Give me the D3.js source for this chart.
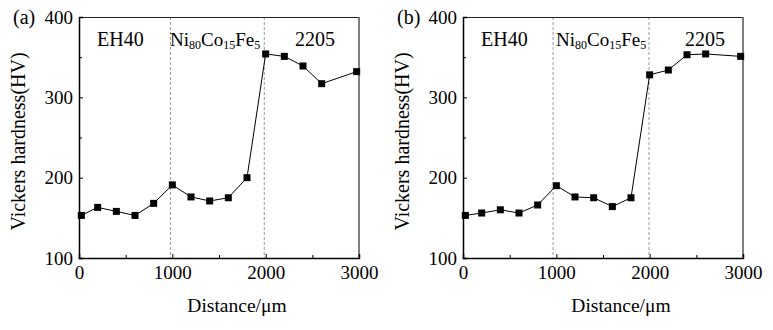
<!DOCTYPE html>
<html><head><meta charset="utf-8">
<script src="https://cdn.jsdelivr.net/npm/d3@7"></script>
<style>body{margin:0;background:#fff}svg{display:block}</style>
</head><body><svg id="c" width="773" height="330"></svg>
<script>
const distanceA = [25, 200, 400, 600, 800, 1000, 1200, 1400, 1600, 1800, 2000, 2200, 2400, 2600, 2975];
const hardnessA = [153, 163, 158, 153, 168, 191, 176, 171, 175, 200, 354, 351, 339, 317, 332];
const distanceB = [25, 200, 400, 600, 800, 1000, 1200, 1400, 1600, 1800, 2000, 2200, 2400, 2600, 2975];
const hardnessB = [153, 156, 160, 156, 166, 190, 176, 175, 164, 175, 328, 334, 353, 354, 351];
const xTicks = [0, 1000, 2000, 3000];
const xMinor = [500, 1500, 2500];
const yTicks = [100, 200, 300, 400];
const yMinor = [150, 250, 350];
const boundariesA = [980, 1985];
const boundariesB = [965, 1993];
const regionLabels = ["EH40", "Ni80Co15Fe5", "2205"];
const panelLabels = ["(a)", "(b)"];
const xTitle = "Distance/μm";
const yTitle = "Vickers hardness(HV)";

(function () {
const FONT = '"Liberation Serif", "Times New Roman", serif';
const svg = d3.select("#c");
const panels = [
  {ox: 79, xs: distanceA, ys: hardnessA, bounds: boundariesA, label: panelLabels[0], reg: [[97,46],[170,46],[295,46]]},
  {ox: 463, xs: distanceB, ys: hardnessB, bounds: boundariesB, label: panelLabels[1], reg: [[481,46],[556,46],[685,46]]}
];
const W = 280, pTop = 17, pBottom = 258;

panels.forEach(p => {
  const g = svg.append("g");
  const x = d3.scaleLinear().domain([0, 3000]).range([p.ox, p.ox + W]);
  const y = d3.scaleLinear().domain([100, 400]).range([pBottom, pTop]);

  p.bounds.forEach(b => {
    g.append("line").attr("x1", x(b)).attr("x2", x(b)).attr("y1", pTop).attr("y2", pBottom)
      .attr("stroke", "#9a9a9a").attr("stroke-width", 1).attr("stroke-dasharray", "3,2");
  });

  g.append("line").attr("x1", p.ox).attr("x2", p.ox + W).attr("y1", pTop + 0.5).attr("y2", pTop + 0.5).attr("stroke", "#222").attr("stroke-width", 1);
  g.append("line").attr("x1", p.ox + W).attr("x2", p.ox + W).attr("y1", pTop).attr("y2", pBottom).attr("stroke", "#555").attr("stroke-width", 1.5);

  const xa = d3.axisBottom(x).tickValues(xTicks).tickSize(-4).tickPadding(8).tickFormat(d3.format("d"));
  const gx = g.append("g").attr("transform", `translate(0,${pBottom})`).call(xa);
  gx.select(".domain").attr("stroke", "#000").attr("stroke-width", 1.5);
  gx.selectAll("text").attr("font-size", 19);
  const xm = d3.axisBottom(x).tickValues(xMinor).tickSize(-3).tickFormat("");
  g.append("g").attr("transform", `translate(0,${pBottom})`).call(xm).select(".domain").remove();

  const ya = d3.axisLeft(y).tickValues(yTicks).tickSize(-4).tickPadding(6).tickFormat(d3.format("d"));
  const gy = g.append("g").attr("transform", `translate(${p.ox},0)`).call(ya);
  gy.select(".domain").attr("stroke", "#000").attr("stroke-width", 1.5);
  gy.selectAll("text").attr("font-size", 19);
  const ym = d3.axisLeft(y).tickValues(yMinor).tickSize(-3).tickFormat("");
  g.append("g").attr("transform", `translate(${p.ox},0)`).call(ym).select(".domain").remove();

  const data = p.xs.map((d, i) => [d, p.ys[i]]);
  g.append("path").datum(data).attr("fill", "none").attr("stroke", "#000").attr("stroke-width", 1)
    .attr("d", d3.line().x(d => x(d[0])).y(d => y(d[1])));
  g.selectAll("rect.m").data(data).enter().append("rect")
    .attr("x", d => x(d[0]) - 3.5).attr("y", d => y(d[1]) - 3.5).attr("width", 7).attr("height", 7).attr("fill", "#000");

  g.append("text").attr("x", p.reg[0][0]).attr("y", p.reg[0][1]).attr("font-size", 20).text(regionLabels[0]);
  const t1 = g.append("text").attr("x", p.reg[1][0]).attr("y", p.reg[1][1]).attr("font-size", 19);
  t1.append("tspan").text("Ni");
  t1.append("tspan").attr("font-size", 12).attr("dy", 3).text("80");
  t1.append("tspan").attr("dy", -3).text("Co");
  t1.append("tspan").attr("font-size", 12).attr("dy", 3).text("15");
  t1.append("tspan").attr("dy", -3).text("Fe");
  t1.append("tspan").attr("font-size", 12).attr("dy", 3).text("5");
  g.append("text").attr("x", p.reg[2][0]).attr("y", p.reg[2][1]).attr("font-size", 20).text(regionLabels[2]);

  g.append("text").attr("x", p.ox - 66).attr("y", 24).attr("font-size", 20).text(p.label);

  g.append("text").attr("x", p.ox + W / 2 + 18).attr("y", 312).attr("text-anchor", "middle").attr("font-size", 19.5).text(xTitle);
  g.append("text").attr("transform", `translate(${p.ox - 54},${(pTop + pBottom) / 2 + 4}) rotate(-90)`)
    .attr("text-anchor", "middle").attr("font-size", 20).text(yTitle);
});
svg.selectAll("text").attr("font-family", null).style("font-family", FONT).style("fill", "#000");
})();
</script></body></html>
